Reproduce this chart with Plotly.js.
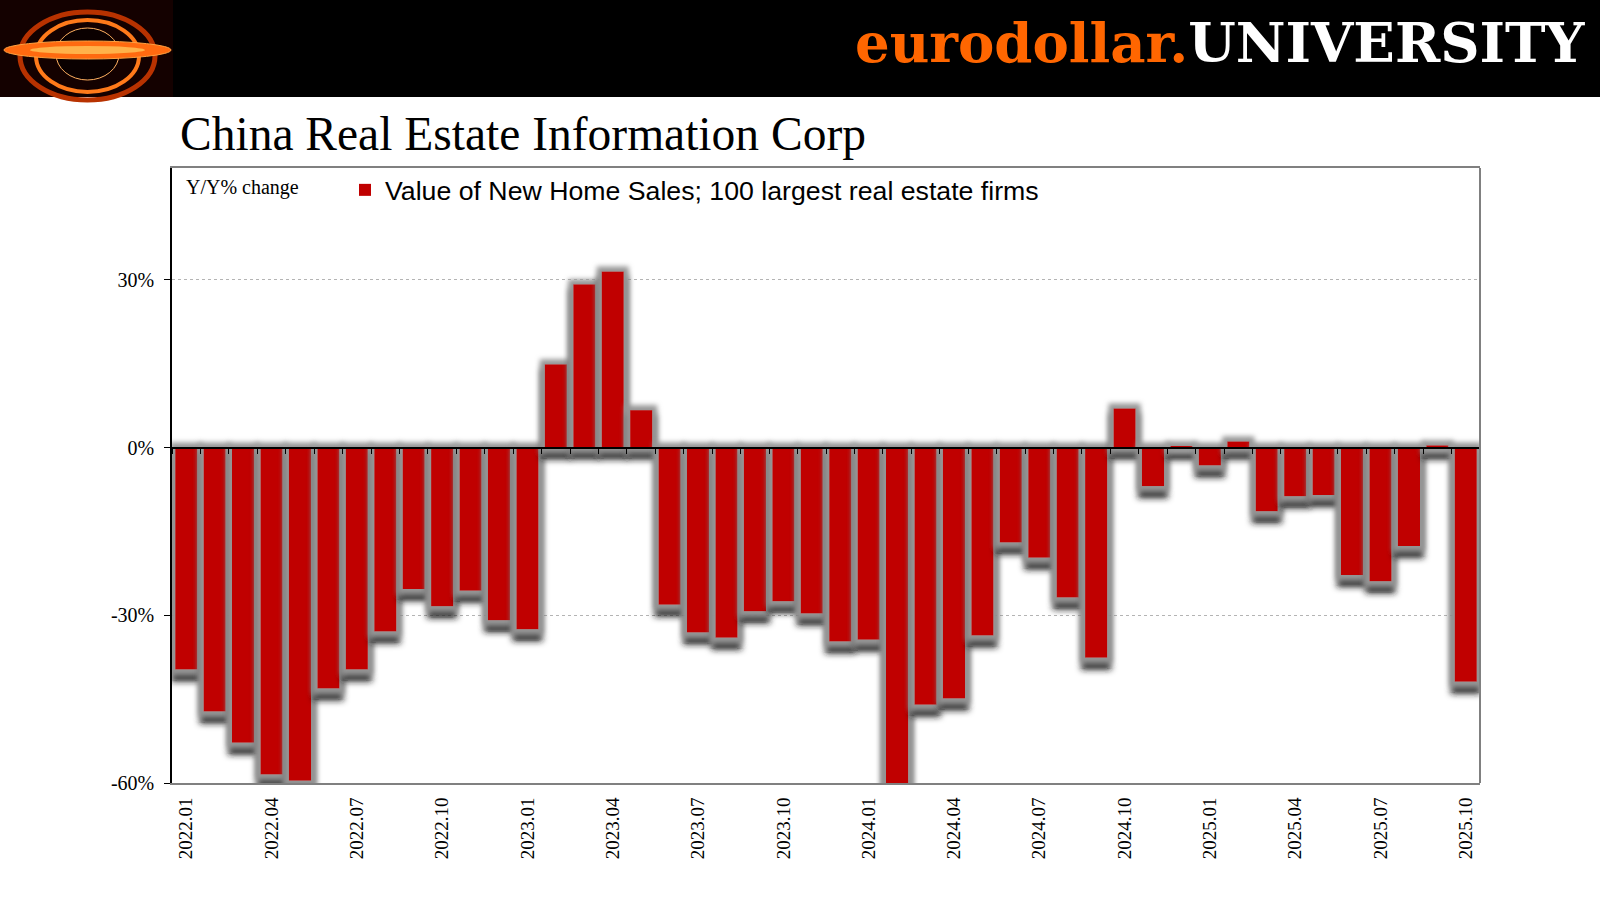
<!DOCTYPE html>
<html>
<head>
<meta charset="utf-8">
<script src="https://cdn.plot.ly/plotly-3.0.1.min.js"></script>
<style>
  html, body { margin: 0; padding: 0; background: #fff; }
  #chart { width: 1600px; height: 900px; }
</style>
</head>
<body>
<div id="chart"></div>
<script>
// ---- data ----
const months = [
  "2022.01","2022.02","2022.03","2022.04","2022.05","2022.06","2022.07","2022.08","2022.09","2022.10","2022.11","2022.12",
  "2023.01","2023.02","2023.03","2023.04","2023.05","2023.06","2023.07","2023.08","2023.09","2023.10","2023.11","2023.12",
  "2024.01","2024.02","2024.03","2024.04","2024.05","2024.06","2024.07","2024.08","2024.09","2024.10","2024.11","2024.12",
  "2025.01","2025.02","2025.03","2025.04","2025.05","2025.06","2025.07","2025.08","2025.09","2025.10"
];
const salesYoY = [
  -39.7, -47.2, -52.8, -58.5, -59.6, -43.1, -39.7, -32.9, -25.3, -28.4, -25.6, -30.9,
  -32.5, 14.9, 29.2, 31.5, 6.7, -28.1, -33.1, -34.0, -29.3, -27.5, -29.7, -34.7,
  -34.4, -62.0, -46.0, -44.9, -33.6, -17.0, -19.7, -26.8, -37.6, 7.0, -6.9, 0.1,
  -3.2, 1.1, -11.4, -8.7, -8.5, -22.8, -23.9, -17.6, 0.4, -41.9
];
const xTickLabels = months.filter((m, i) => i % 3 === 0);
const yTickValues = [-60, -30, 0, 30];
const seriesName = "Value of New Home Sales; 100 largest real estate firms";
const titleText = "China Real Estate Information Corp";
const unitText = "Y/Y% change";

// ---- geometry helpers (pixel -> paper) ----
const W = 1600, H = 900;
const M = { l: 172, r: 120, t: 168, b: 117 };
const PW = W - M.l - M.r, PH = H - M.t - M.b;
const px = x => (x - M.l) / PW;
const py = y => 1 - (y - M.t) / PH;
const yMin = -60, yMax = 50;

const serif = "Liberation Serif, Times New Roman, serif";
const sans = "Liberation Sans, Arial, sans-serif";

const traces = [
  {
    type: "bar",
    x: months,
    y: salesYoY,
    name: seriesName,
    marker: { color: "#c00000" },
    hoverinfo: "x+y"
  },
  {
    type: "scatter",
    x: [], y: [],
    xaxis: "x2", yaxis: "y",
    showlegend: false, hoverinfo: "skip"
  }
];

const shapes = [
  // black header band
  { type: "rect", xref: "paper", yref: "paper", x0: px(0), x1: px(W), y0: py(97), y1: py(0),
    fillcolor: "#000", line: { width: 0 }, layer: "above" },
  // logo
  { type: "rect", xref: "paper", yref: "paper", x0: px(0), x1: px(173), y0: py(97), y1: py(0),
    fillcolor: "#140100", line: { width: 0 }, layer: "above" },
  { type: "circle", xref: "paper", yref: "paper", x0: px(20), x1: px(155), y0: py(100), y1: py(12),
    fillcolor: "rgba(0,0,0,0)", line: { color: "#b83200", width: 5 }, layer: "above" },
  { type: "circle", xref: "paper", yref: "paper", x0: px(36), x1: px(139), y0: py(92), y1: py(20),
    fillcolor: "rgba(0,0,0,0)", line: { color: "#ff7a1a", width: 4 }, layer: "above" },
  { type: "circle", xref: "paper", yref: "paper", x0: px(56), x1: px(119), y0: py(80), y1: py(28),
    fillcolor: "#0a0000", line: { color: "#ffb060", width: 1 }, layer: "above" },
  { type: "circle", xref: "paper", yref: "paper", x0: px(4), x1: px(171), y0: py(59), y1: py(41),
    fillcolor: "#ff6a10", line: { color: "#ffa040", width: 1 }, layer: "above" },
  { type: "circle", xref: "paper", yref: "paper", x0: px(30), x1: px(145), y0: py(54), y1: py(46),
    fillcolor: "#ffb24a", line: { width: 0 }, layer: "above" },
  // right border of plot frame
  { type: "line", xref: "paper", yref: "paper", x0: 1, x1: 1, y0: 0, y1: 1,
    line: { color: "#808080", width: 2 }, layer: "above" }
];

const annotations = [
  { xref: "paper", yref: "paper", x: px(1588), y: py(43), xanchor: "right", yanchor: "middle",
    showarrow: false,
    text: '<span style="color:#ff6600">eurodollar.</span><span style="color:#ffffff">UNIVERSITY</span>',
    font: { family: "DejaVu Serif, serif", size: 54.5, color: "#fff", weight: "bold" } },
  { xref: "paper", yref: "paper", x: px(184), y: py(188), xanchor: "left", yanchor: "middle",
    showarrow: false, text: unitText, font: { family: serif, size: 20, color: "#000" } }
];

const layout = {
  width: W, height: H,
  margin: M,
  paper_bgcolor: "#fff",
  plot_bgcolor: "#fff",
  title: {
    text: titleText,
    x: 180 / W, xanchor: "left", xref: "container",
    y: 1 - 133 / H, yanchor: "middle", yref: "container",
    font: { family: serif, size: 47.5, color: "#000" }
  },
  bargap: 0.22,
  showlegend: true,
  legend: {
    x: px(345), y: py(166), xanchor: "left", yanchor: "top",
    orientation: "h", bgcolor: "rgba(0,0,0,0)",
    font: { family: sans, size: 26.7, color: "#000" },
    itemwidth: 30
  },
  xaxis: {
    type: "category",
    tickmode: "array",
    tickvals: xTickLabels,
    ticktext: xTickLabels,
    tickangle: -90,
    ticks: "",
    ticklabelstandoff: 5,
    tickfont: { family: serif, size: 19, color: "#000" },
    showline: true, linecolor: "#808080", linewidth: 2, mirror: true,
    showgrid: false, zeroline: false, fixedrange: true
  },
  xaxis2: {
    overlaying: "x", anchor: "free", position: (0 - yMin) / (yMax - yMin),
    type: "linear", range: [-0.5, months.length - 0.5],
    tickmode: "linear", tick0: 0.5, dtick: 1,
    ticks: "outside", ticklen: 6, tickwidth: 1, tickcolor: "#000",
    showticklabels: false, showline: true, linecolor: "#000", linewidth: 1.5,
    showgrid: false, zeroline: false, fixedrange: true
  },
  yaxis: {
    range: [yMin, yMax],
    tickmode: "array",
    tickvals: yTickValues,
    ticktext: yTickValues.map(v => v + "%"),
    ticks: "outside", ticklen: 6, tickwidth: 1, tickcolor: "#000",
    tickfont: { family: serif, size: 20, color: "#000" },
    ticklabelstandoff: 6,
    showline: true, linecolor: "#000", linewidth: 1.5,
    showgrid: true, gridcolor: "#b4b4b4", gridwidth: 1, griddash: "dot",
    zeroline: false, fixedrange: true
  },
  shapes: shapes,
  annotations: annotations
};

const FILTER_MARKUP =
  '<filter id="barglow" filterUnits="userSpaceOnUse" x="-2000" y="-2000" width="6000" height="6000">' +
  '<feMorphology in="SourceAlpha" operator="dilate" radius="5" result="dil"/>' +
  '<feGaussianBlur in="dil" stdDeviation="2.6" result="dilb"/>' +
  '<feFlood flood-color="#969696" result="gcol"/>' +
  '<feComposite in="gcol" in2="dilb" operator="in" result="glow"/>' +
  '<feMorphology in="SourceAlpha" operator="dilate" radius="3.5" result="sdil"/>' +
  '<feGaussianBlur in="sdil" stdDeviation="3.2" result="sb"/>' +
  '<feOffset in="sb" dx="0" dy="8" result="so"/>' +
  '<feFlood flood-color="#1a1a1a" flood-opacity="0.95" result="scol"/>' +
  '<feComposite in="scol" in2="so" operator="in" result="shadow"/>' +
  '<feMerge><feMergeNode in="shadow"/><feMergeNode in="glow"/><feMergeNode in="SourceGraphic"/></feMerge>' +
  '</filter>';

function applyGlow(gd) {
  const svg = gd.querySelector("svg.main-svg");
  if (!svg) return;
  let defs = svg.querySelector("defs");
  if (!defs) {
    defs = document.createElementNS("http://www.w3.org/2000/svg", "defs");
    svg.insertBefore(defs, svg.firstChild);
  }
  if (!svg.querySelector("#barglow")) {
    const tmp = new DOMParser().parseFromString(
      '<svg xmlns="http://www.w3.org/2000/svg">' + FILTER_MARKUP + '</svg>', "image/svg+xml");
    defs.appendChild(document.importNode(tmp.documentElement.firstChild, true));
  }
  gd.querySelectorAll(".bars .point path").forEach(p => p.setAttribute("filter", "url(#barglow)"));
}

Plotly.newPlot("chart", traces, layout, { displayModeBar: false }).then(gd => {
  applyGlow(gd);
  gd.on("plotly_afterplot", () => applyGlow(gd));
});
</script>
</body>
</html>
